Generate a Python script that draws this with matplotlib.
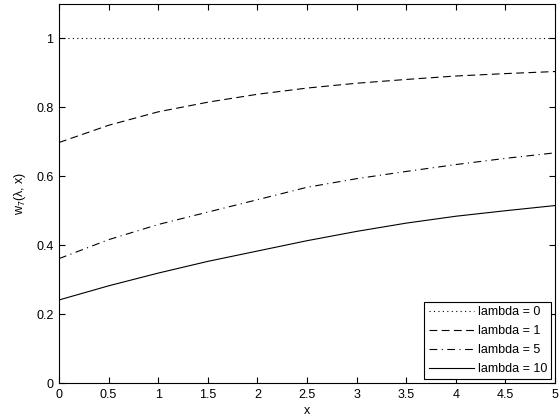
import matplotlib
matplotlib.use("Agg")
import matplotlib.pyplot as plt

x = [0, 0.5, 1, 1.5, 2, 2.5, 3, 3.5, 4, 4.5, 5]
w_lambda0 = [1, 1, 1, 1, 1, 1, 1, 1, 1, 1, 1]
w_lambda1 = [0.698, 0.748, 0.787, 0.815, 0.838, 0.856, 0.870, 0.881, 0.891, 0.898, 0.904]
w_lambda5 = [0.361, 0.416, 0.460, 0.496, 0.532, 0.568, 0.593, 0.614, 0.634, 0.652, 0.668]
w_lambda10 = [0.241, 0.282, 0.319, 0.353, 0.383, 0.413, 0.440, 0.464, 0.484, 0.500, 0.515]
labels = ["lambda = 0", "lambda = 1", "lambda = 5", "lambda = 10"]
xticks = [0, 0.5, 1, 1.5, 2, 2.5, 3, 3.5, 4, 4.5, 5]
yticks = [0, 0.2, 0.4, 0.6, 0.8, 1]

plt.rcParams['font.family'] = ['Liberation Sans', 'DejaVu Sans']
plt.rcParams['mathtext.fontset'] = 'custom'
plt.rcParams['mathtext.rm'] = 'Liberation Sans'
plt.rcParams['mathtext.it'] = 'Liberation Sans'
fig = plt.figure(figsize=(5.6, 4.2), dpi=100)
ax = fig.add_axes([59/560, 37/420, 496/560, 379/420])

lw = 0.8
ax.plot(x, w_lambda0, color='k', lw=lw, linestyle=(0, (1, 3)), label=labels[0])
ax.plot(x, w_lambda1, color='k', lw=lw, linestyle=(0, (7, 4)), label=labels[1])
ax.plot(x, w_lambda5, color='k', lw=lw, linestyle=(0, (7, 4, 1, 4)), label=labels[2])
ax.plot(x, w_lambda10, color='k', lw=lw, linestyle='-', label=labels[3])

ax.set_xlim(0, 5)
ax.set_ylim(0, 1.1)
ax.set_xticks(xticks)
ax.set_xticklabels([f"{v:g}" for v in xticks])
ax.set_yticks(yticks)
ax.set_yticklabels([f"{v:g}" for v in yticks])
ax.tick_params(direction='in', length=4, width=0.8, labelsize=9, top=True, right=True,
               labeltop=False, labelright=False, pad=4)
for s in ax.spines.values():
    s.set_linewidth(0.8)
ax.set_xlabel("x", fontsize=9, labelpad=3)
ax.set_ylabel("w$_7$(λ, x)", fontsize=9, labelpad=6)

leg = ax.legend(loc='lower right', fontsize=9, frameon=True, fancybox=False,
                edgecolor='k', framealpha=1, handlelength=3.6, handletextpad=0.3,
                borderpad=0.35, labelspacing=0.55, borderaxespad=0.3)
leg.get_frame().set_linewidth(0.8)

fig.savefig("out.png", dpi=100)
